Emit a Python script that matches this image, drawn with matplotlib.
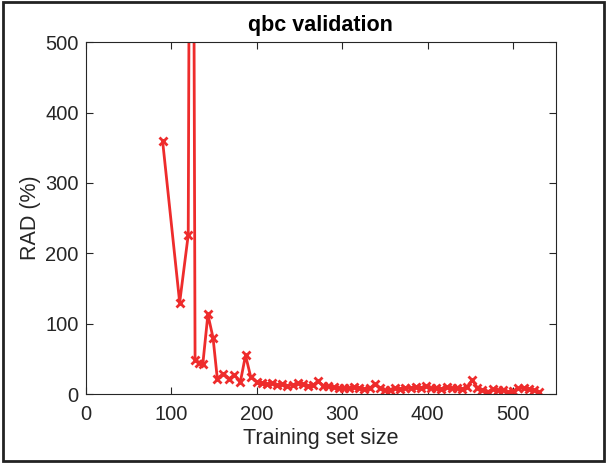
import matplotlib.pyplot as plt
from matplotlib.patches import Rectangle

# training set size vs RAD (%)
size_early = [90, 110, 120, 124, 128, 133, 137, 143, 149, 154, 161, 168, 174, 181, 187, 193]
rad_early = [360, 130, 226, 1600, 49, 44, 42, 113, 80, 22, 29, 22, 27, 17.5, 55, 24.6]

size_late = [200, 206, 212, 218, 224, 230, 236, 242, 248, 254, 260, 266, 272, 278,
             284, 290, 296, 302, 308, 314, 320, 326, 332, 338, 344, 350, 356, 362,
             368, 374, 380, 386, 392, 398, 404, 410, 416, 422, 428, 434, 440, 446,
             452, 458, 464, 470, 476, 482, 488, 494, 500, 506, 512, 518, 524, 530]
rad_late = [17.5, 16, 14, 15, 13, 14, 12, 13, 15, 14, 12, 13, 18, 12,
            11, 10, 8, 9, 8, 10, 9, 7, 8, 14, 9, 5, 6, 8,
            7, 9, 8, 10, 9, 11, 8, 9, 7, 10, 8, 9, 7, 10,
            20, 9, 6, 3, 7, 5, 6, 3, 4, 8, 9, 7, 5, 3]

sizes = size_early + size_late
rad = rad_early + rad_late

plt.rcParams['font.family'] = ['Liberation Sans', 'DejaVu Sans']

fig = plt.figure(figsize=(6.07, 4.63), dpi=100)
ax = fig.add_axes([0.141, 0.149, 0.775, 0.760])

ax.plot(sizes, rad, color='#EE2C2C', lw=2, marker='x', ms=6, mew=2)

ax.set_xlim(0, 550)
ax.set_ylim(0, 500)
ax.set_xticks([0, 100, 200, 300, 400, 500])
ax.set_yticks([0, 100, 200, 300, 400, 500])
ax.tick_params(direction='in', length=5, width=0.8, colors='#262626',
               labelsize=14.5, top=True, right=True)
ax.tick_params(axis='x', pad=8)
ax.tick_params(axis='y', pad=5)
for s in ax.spines.values():
    s.set_color('#262626')
    s.set_linewidth(0.8)

ax.set_title('qbc validation', fontsize=15.5, fontweight='bold', pad=8)
ax.set_xlabel('Training set size', fontsize=15.5, color='#262626', labelpad=3)
ax.set_ylabel('RAD (%)', fontsize=15.5, color='#262626', labelpad=3)

# dark frame round the whole figure
fig.patches.append(Rectangle((0.005, 0.005), 0.99, 0.99, transform=fig.transFigure,
                             fill=False, edgecolor='#222222', lw=2))

fig.savefig('out.png', dpi=100)
